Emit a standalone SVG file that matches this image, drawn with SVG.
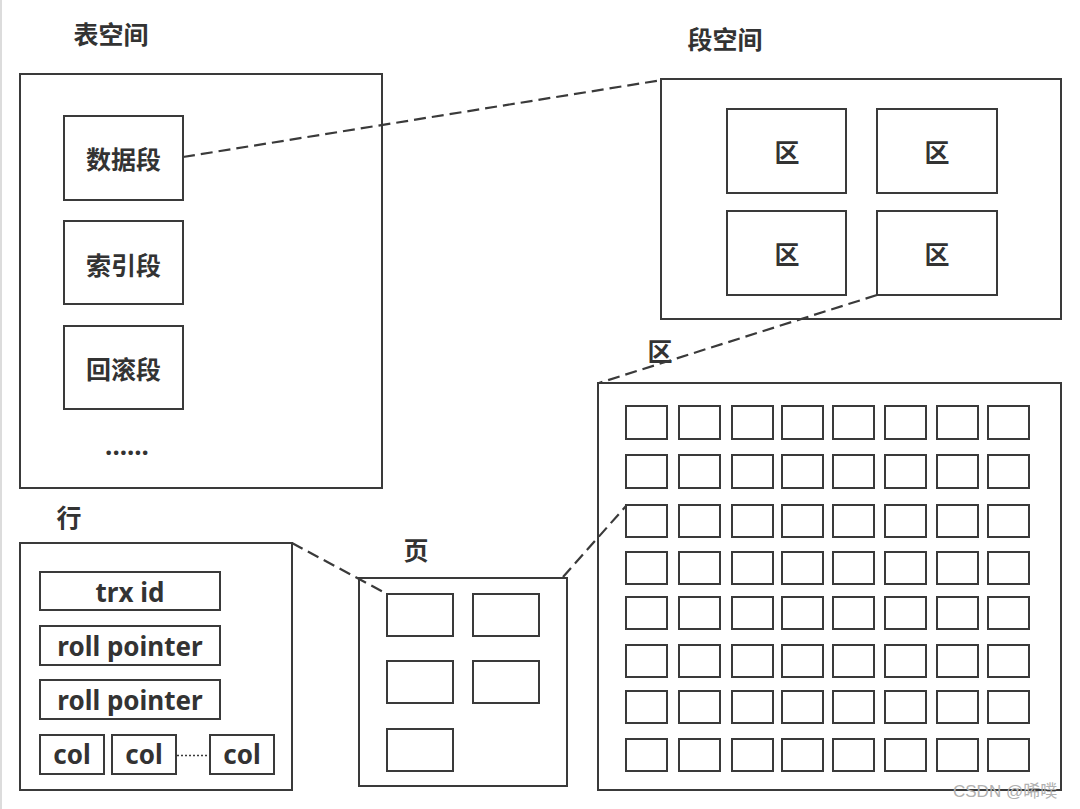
<svg xmlns="http://www.w3.org/2000/svg" width="1080" height="809" viewBox="0 0 1080 809">
<style>
.b{fill:#fff;stroke:#3a3a3a;stroke-width:2}
.c{fill:none;stroke:#3a3a3a;stroke-width:2}
.d{fill:none;stroke:#3a3a3a;stroke-width:2.2;stroke-dasharray:12 6}
.t{font-family:"Noto Sans","Noto Sans CJK SC",sans-serif;font-weight:bold;font-size:26px;fill:#333;text-anchor:middle}
.z{font-family:"Noto Sans CJK SC",sans-serif;font-weight:bold;font-size:25px;fill:#333;text-anchor:middle}
.w{font-family:"Liberation Sans","Noto Sans CJK SC",sans-serif;font-size:17px;fill:#b0b0b0}
</style>
<rect width="1080" height="809" fill="#fff"/>
<line x1="1" y1="0" x2="1" y2="809" stroke="#dcdcdc" stroke-width="2"/>

<g id="tablespace">
<text class="z" x="111" y="44">表空间</text>
<rect class="b" x="20" y="74" width="362" height="414"/>
</g>
<g id="data-segment">
<rect class="b" x="64" y="116" width="119" height="84"/>
<text class="z" x="123.5" y="169">数据段</text>
</g>
<g id="index-segment">
<rect class="b" x="64" y="221" width="119" height="83"/>
<text class="z" x="123.5" y="275">索引段</text>
</g>
<g id="rollback-segment">
<rect class="b" x="64" y="326" width="119" height="83"/>
<text class="z" x="123.5" y="379">回滚段</text>
</g>
<g id="more-segments">
<text class="t" x="127" y="455">......</text>
</g>

<g id="segment-space">
<text class="z" x="725" y="49">段空间</text>
<rect class="b" x="661" y="79" width="400" height="240"/>
<rect class="b" x="727" y="109" width="119" height="84"/>
<text class="z" x="787" y="162">区</text>
<rect class="b" x="877" y="109" width="120" height="84"/>
<text class="z" x="937" y="162">区</text>
<rect class="b" x="727" y="211" width="119" height="84"/>
<text class="z" x="787" y="264">区</text>
<rect class="b" x="877" y="211" width="120" height="84"/>
<text class="z" x="937" y="264">区</text>
</g>

<g id="extent">
<text class="z" x="660" y="361">区</text>
<rect class="b" x="598" y="383" width="463" height="407"/>
<g class="c">
<rect x="626" y="406" width="41" height="33"/><rect x="679" y="406" width="41" height="33"/><rect x="732" y="406" width="41" height="33"/><rect x="782" y="406" width="41" height="33"/><rect x="833" y="406" width="41" height="33"/><rect x="885" y="406" width="41" height="33"/><rect x="937" y="406" width="41" height="33"/><rect x="988" y="406" width="41" height="33"/>
<rect x="626" y="455" width="41" height="33"/><rect x="679" y="455" width="41" height="33"/><rect x="732" y="455" width="41" height="33"/><rect x="782" y="455" width="41" height="33"/><rect x="833" y="455" width="41" height="33"/><rect x="885" y="455" width="41" height="33"/><rect x="937" y="455" width="41" height="33"/><rect x="988" y="455" width="41" height="33"/>
<rect x="626" y="505" width="41" height="32"/><rect x="679" y="505" width="41" height="32"/><rect x="732" y="505" width="41" height="32"/><rect x="782" y="505" width="41" height="32"/><rect x="833" y="505" width="41" height="32"/><rect x="885" y="505" width="41" height="32"/><rect x="937" y="505" width="41" height="32"/><rect x="988" y="505" width="41" height="32"/>
<rect x="626" y="552" width="41" height="32"/><rect x="679" y="552" width="41" height="32"/><rect x="732" y="552" width="41" height="32"/><rect x="782" y="552" width="41" height="32"/><rect x="833" y="552" width="41" height="32"/><rect x="885" y="552" width="41" height="32"/><rect x="937" y="552" width="41" height="32"/><rect x="988" y="552" width="41" height="32"/>
<rect x="626" y="597" width="41" height="32"/><rect x="679" y="597" width="41" height="32"/><rect x="732" y="597" width="41" height="32"/><rect x="782" y="597" width="41" height="32"/><rect x="833" y="597" width="41" height="32"/><rect x="885" y="597" width="41" height="32"/><rect x="937" y="597" width="41" height="32"/><rect x="988" y="597" width="41" height="32"/>
<rect x="626" y="645" width="41" height="32"/><rect x="679" y="645" width="41" height="32"/><rect x="732" y="645" width="41" height="32"/><rect x="782" y="645" width="41" height="32"/><rect x="833" y="645" width="41" height="32"/><rect x="885" y="645" width="41" height="32"/><rect x="937" y="645" width="41" height="32"/><rect x="988" y="645" width="41" height="32"/>
<rect x="626" y="691" width="41" height="32"/><rect x="679" y="691" width="41" height="32"/><rect x="732" y="691" width="41" height="32"/><rect x="782" y="691" width="41" height="32"/><rect x="833" y="691" width="41" height="32"/><rect x="885" y="691" width="41" height="32"/><rect x="937" y="691" width="41" height="32"/><rect x="988" y="691" width="41" height="32"/>
<rect x="626" y="739" width="41" height="32"/><rect x="679" y="739" width="41" height="32"/><rect x="732" y="739" width="41" height="32"/><rect x="782" y="739" width="41" height="32"/><rect x="833" y="739" width="41" height="32"/><rect x="885" y="739" width="41" height="32"/><rect x="937" y="739" width="41" height="32"/><rect x="988" y="739" width="41" height="32"/>
</g>
</g>

<g id="page">
<text class="z" x="416" y="560">页</text>
<rect class="b" x="359" y="578" width="208" height="208"/>
<rect class="b" x="387" y="594" width="66" height="42"/>
<rect class="b" x="473" y="594" width="66" height="42"/>
<rect class="b" x="387" y="661" width="66" height="42"/>
<rect class="b" x="473" y="661" width="66" height="42"/>
<rect class="b" x="387" y="729" width="66" height="42"/>
</g>

<g id="row">
<text class="z" x="69" y="527">行</text>
<rect class="b" x="20" y="543" width="272" height="247"/>
<rect class="b" x="40" y="572" width="180" height="38"/>
<text class="t" x="130" y="602">trx id</text>
<rect class="b" x="40" y="626" width="180" height="39"/>
<text class="t" x="130" y="656">roll pointer</text>
<rect class="b" x="40" y="680" width="180" height="39"/>
<text class="t" x="130" y="710">roll pointer</text>
<rect class="b" x="40" y="735" width="64" height="39"/>
<text class="t" x="72" y="764">col</text>
<rect class="b" x="112" y="735" width="64" height="39"/>
<text class="t" x="144" y="764">col</text>
<rect class="b" x="210" y="735" width="64" height="39"/>
<text class="t" x="242" y="764">col</text>
<line x1="177" y1="755.5" x2="210" y2="755.5" stroke="#3a3a3a" stroke-width="1.5" stroke-dasharray="2 2"/>
</g>

<g id="connectors">
<line class="d" x1="183" y1="157" x2="662" y2="80"/>
<line class="d" x1="877" y1="295" x2="599" y2="383"/>
<line class="d" x1="292" y1="543" x2="387" y2="594"/>
<line class="d" x1="563" y1="577" x2="626" y2="506"/>
</g>

<text class="w" x="953" y="797">CSDN @晞噗</text>
</svg>
